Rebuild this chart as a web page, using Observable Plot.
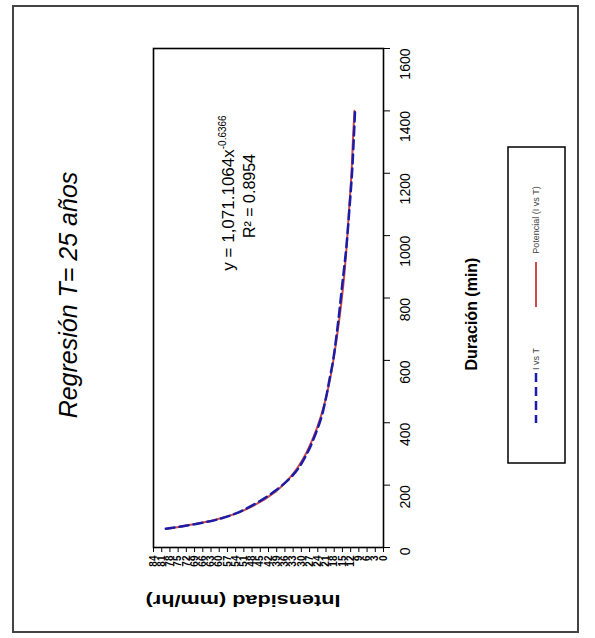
<!DOCTYPE html>
<html>
<head>
<meta charset="utf-8">
<script src="https://cdn.jsdelivr.net/npm/d3@7"></script>
<script src="https://cdn.jsdelivr.net/npm/@observablehq/plot@0.6"></script>
<style>
  html, body { margin: 0; padding: 0; background: #fff; }
  #chart svg { display: block; }
</style>
</head>
<body>
<div id="chart"></div>
<script>
// ---- data ----
const durations   = [60, 90, 120, 180, 240, 300, 360, 420, 480, 540, 600, 720, 840, 960, 1080, 1200, 1320, 1400];
const intensities = [79.5, 60.5, 51.2, 39.8, 32.3, 28.0, 25.0, 22.6, 21.0, 19.7, 18.4, 16.6, 15.1, 13.6, 12.5, 11.5, 10.8, 10.4];
const fitValues   = [79.0, 61.1, 50.8, 39.3, 32.7, 28.4, 25.3, 22.9, 21.0, 19.5, 18.3, 16.3, 14.7, 13.5, 12.6, 11.7, 11.1, 10.6];
const intensityTicks = [0,3,6,9,12,15,18,21,24,27,30,33,36,39,42,45,48,51,54,57,60,63,66,69,72,75,78,81,84];
const durationTicks  = [0,200,400,600,800,1000,1200,1400,1600];
const titleText = "Regresión T= 25 años";
const eqMain = "y = 1,071.1064x";
const eqExp = "-0.6366";
const r2Text = "R² = 0.8954";
const xLabel = "Intensidad (mm/hr)";
const yLabel = "Duración (min)";
const seriesNames = ["I vs T", "Potencial (I vs T)"];

const obs = durations.map((d, i) => ({d, v: intensities[i]}));
const fit = durations.map((d, i) => ({d, v: fitValues[i]}));

const NARROW = "'Liberation Sans Narrow', 'Arial Narrow', 'Liberation Sans', Arial, sans-serif";

const chart = Plot.plot({
  width: 595,
  height: 638,
  marginLeft: 153,
  marginRight: 212,
  marginTop: 48,
  marginBottom: 91,
  style: {fontFamily: NARROW, background: "white", overflow: "visible"},
  x: {domain: [0, 84], reverse: true},
  y: {domain: [0, 1600]},
  marks: [
    Plot.axisX({anchor: "bottom", ticks: intensityTicks, tickSize: 5, tickRotate: -90, tickPadding: 3, label: null, fontSize: 10, fontWeight: "bold", stroke: "black"}),
    Plot.axisY({anchor: "right", ticks: durationTicks, tickSize: 6, tickRotate: -90, tickPadding: 4, label: null, fontSize: 14, tickFormat: d => String(d)}),
    Plot.text(durationTicks, {x: () => 0, y: d => d, text: d => String(d), rotate: -90, dx: 22, fontSize: 14, fill: "black", frameAnchor: "right"}),
    Plot.line(fit, {x: "v", y: "d", stroke: "#cc4a4a", strokeWidth: 2, curve: "catmull-rom"}),
    Plot.line(obs, {x: "v", y: "d", stroke: "#1c1ca8", strokeWidth: 2.5, strokeDasharray: "9,5", curve: "catmull-rom"}),
    Plot.frame({stroke: "black", strokeWidth: 1.6})
  ]
});
document.getElementById("chart").appendChild(chart);

const svg = d3.select(chart);
svg.selectAll("text").attr("fill", "black");
// hide Plot's own y tick labels (redrawn offset to the right above)
svg.selectAll('g[aria-label="y-axis tick label"]').remove();

// outer border
svg.append("rect").attr("x", 13).attr("y", 6).attr("width", 565).attr("height", 626)
  .attr("fill", "none").attr("stroke", "#444").attr("stroke-width", 2);

// title
svg.append("text").attr("transform", "translate(77,295) rotate(-90)")
  .attr("text-anchor", "middle").attr("font-family", NARROW).attr("font-style", "italic")
  .attr("font-size", 25).attr("fill", "black").text(titleText);

// equation
const eq = svg.append("text").attr("transform", "translate(234,193) rotate(-90)")
  .attr("text-anchor", "middle").attr("font-family", NARROW).attr("font-size", 17).attr("fill", "black");
eq.append("tspan").text(eqMain);
eq.append("tspan").attr("font-size", 10).attr("dy", -8).text(eqExp);
svg.append("text").attr("transform", "translate(255,196) rotate(-90)")
  .attr("text-anchor", "middle").attr("font-family", NARROW).attr("font-size", 16).attr("fill", "black").text(r2Text);

// axis titles
svg.append("text").attr("transform", "translate(477,314) rotate(-90)")
  .attr("text-anchor", "middle").attr("font-family", NARROW).attr("font-weight", "bold")
  .attr("font-size", 16).attr("fill", "black").text(yLabel);
svg.append("text").attr("transform", "translate(243,595) rotate(180)")
  .attr("text-anchor", "middle").attr("font-family", NARROW).attr("font-weight", "bold")
  .attr("font-size", 17).attr("textLength", 195).attr("lengthAdjust", "spacingAndGlyphs")
  .attr("fill", "black").text(xLabel);

// legend
svg.append("rect").attr("x", 508).attr("y", 147).attr("width", 57).attr("height", 316)
  .attr("fill", "white").attr("stroke", "black").attr("stroke-width", 1.5);
svg.append("line").attr("x1", 536).attr("x2", 536).attr("y1", 373).attr("y2", 423)
  .attr("stroke", "#1c1ca8").attr("stroke-width", 2.5).attr("stroke-dasharray", "9,5");
svg.append("line").attr("x1", 536).attr("x2", 536).attr("y1", 262).attr("y2", 307)
  .attr("stroke", "#cc4a4a").attr("stroke-width", 2);
svg.append("text").attr("transform", "translate(539,359) rotate(-90)")
  .attr("text-anchor", "middle").attr("font-family", NARROW).attr("font-size", 9).attr("fill", "#444").text(seriesNames[0]);
svg.append("text").attr("transform", "translate(539,220) rotate(-90)")
  .attr("text-anchor", "middle").attr("font-family", NARROW).attr("font-size", 9).attr("fill", "#444").text(seriesNames[1]);
</script>
</body>
</html>
